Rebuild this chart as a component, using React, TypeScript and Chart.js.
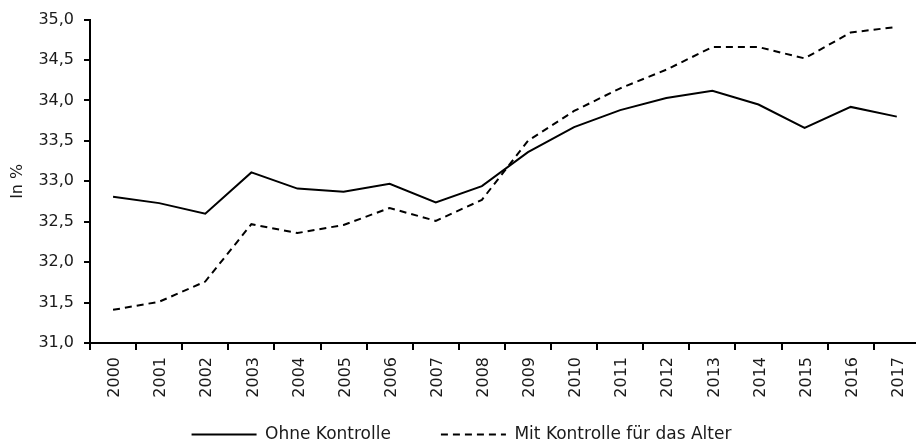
import React, { useEffect, useRef } from 'react';
import { Chart, registerables } from 'chart.js';

Chart.register(...registerables);

const years = ['2000', '2001', '2002', '2003', '2004', '2005', '2006', '2007', '2008', '2009', '2010', '2011', '2012', '2013', '2014', '2015', '2016', '2017'];
const ohneKontrolle = [32.81, 32.73, 32.6, 33.11, 32.91, 32.87, 32.97, 32.74, 32.94, 33.36, 33.67, 33.88, 34.03, 34.12, 33.95, 33.66, 33.92, 33.8];
const mitKontrolle = [31.41, 31.51, 31.76, 32.47, 32.36, 32.46, 32.67, 32.51, 32.77, 33.5, 33.87, 34.15, 34.38, 34.66, 34.66, 34.52, 34.84, 34.91];
const seriesNames = ['Ohne Kontrolle', 'Mit Kontrolle für das Alter'];
const yTickLabels = ['31,0', '31,5', '32,0', '32,5', '33,0', '33,5', '34,0', '34,5', '35,0'];
const yMin = 31;
const yMax = 35;
const yStep = 0.5;
const yTitle = 'In %';

const FONT = '"DejaVu Sans", sans-serif';
const INK = '#1a1a1a';

export default function App() {
  const ref = useRef<HTMLCanvasElement | null>(null);

  useEffect(() => {
    if (!ref.current) return;
    const chart = new Chart(ref.current, {
      type: 'line',
      data: {
        labels: years,
        datasets: [
          {
            label: seriesNames[0],
            data: ohneKontrolle,
            borderColor: '#000',
            backgroundColor: '#000',
            borderWidth: 2,
            pointRadius: 0,
            pointStyle: 'line',
            tension: 0,
          },
          {
            label: seriesNames[1],
            data: mitKontrolle,
            borderColor: '#000',
            backgroundColor: '#000',
            borderWidth: 2,
            borderDash: [7, 5],
            pointRadius: 0,
            pointStyle: 'line',
            tension: 0,
          },
        ],
      },
      options: {
        responsive: false,
        animation: false,
        layout: { padding: { top: 18, left: 0, right: 0, bottom: -10 } },
        plugins: {
          tooltip: { enabled: false },
          legend: {
            position: 'bottom',
            labels: {
              usePointStyle: true,
              pointStyle: 'line',
              pointStyleWidth: 65,
              padding: 50,
              color: INK,
              font: { family: FONT, size: 17 },
              generateLabels: (c: any) => {
                const items = (Chart.defaults.plugins.legend.labels as any).generateLabels(c);
                return items.map((it: any) => ({
                  ...it,
                  lineDash: (c.data.datasets[it.datasetIndex] as any).borderDash || [],
                  lineWidth: 2,
                  strokeStyle: '#000',
                }));
              },
            },
          },
        },
        scales: {
          x: {
            type: 'category',
            offset: true,
            afterFit: (s: any) => {
              s.height = 33;
              s._computeLabelArea = () => undefined;
            },
            grid: {
              display: true,
              offset: true,
              drawOnChartArea: false,
              drawTicks: true,
              tickLength: 7,
              color: '#000',
              lineWidth: 2,
            },
            border: { display: true, color: '#000', width: 2 },
            ticks: {
              autoSkip: false,
              minRotation: 90,
              maxRotation: 90,
              padding: 7,
              labelOffset: 2,
              color: INK,
              font: { family: FONT, size: 16 },
            },
          },
          y: {
            min: yMin,
            max: yMax,
            afterFit: (s: any) => {
              s.width = 90;
            },
            grid: {
              display: true,
              drawOnChartArea: false,
              drawTicks: true,
              tickLength: 6,
              color: '#000',
              lineWidth: 2,
            },
            border: { display: true, color: '#000', width: 2 },
            title: {
              display: true,
              text: yTitle,
              color: INK,
              font: { family: FONT, size: 16 },
              padding: { top: 8, bottom: 0 },
            },
            ticks: {
              stepSize: yStep,
              padding: 10,
              color: INK,
              font: { family: FONT, size: 16 },
              callback: (_v: any, i: number) => yTickLabels[i],
            },
          },
        },
      },
    });
    return () => chart.destroy();
  }, []);

  return (
    <div style={{ position: 'fixed', left: 0, top: 0, width: 916, height: 443, overflow: 'hidden', background: '#fff' }}>
      <canvas ref={ref} width={923} height={443} style={{ display: 'block' }} />
    </div>
  );
}
